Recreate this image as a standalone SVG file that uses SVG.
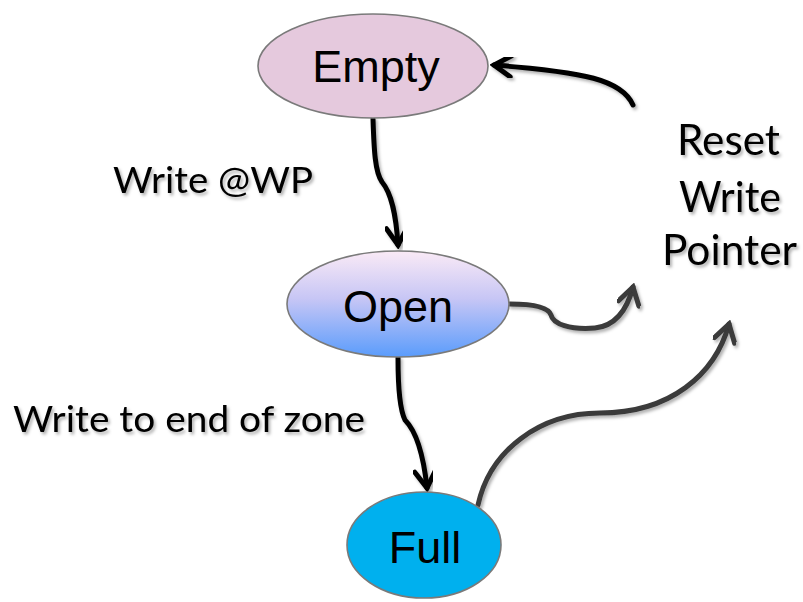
<svg xmlns="http://www.w3.org/2000/svg" width="803" height="602" viewBox="0 0 803 602">
<defs>
<linearGradient id="openGrad" x1="0" y1="0" x2="0" y2="1">
<stop offset="0" stop-color="#FAEAF6"/>
<stop offset="0.45" stop-color="#C7C6F5"/>
<stop offset="1" stop-color="#5A9CFC"/>
</linearGradient>
<filter id="sh" x="-20%" y="-20%" width="140%" height="140%">
<feDropShadow dx="2" dy="2.5" stdDeviation="1.8" flood-color="#000" flood-opacity="0.3"/>
</filter>
<marker id="ahBlack" viewBox="0 0 24 24" refX="20" refY="12" markerWidth="24" markerHeight="24" markerUnits="userSpaceOnUse" orient="auto">
<path d="M3,1.5 L20,12 L3,22.5" fill="none" stroke="#000" stroke-width="5" stroke-linecap="round" stroke-linejoin="miter"/>
</marker>
<marker id="ahGray" viewBox="0 0 24 24" refX="20" refY="12" markerWidth="24" markerHeight="24" markerUnits="userSpaceOnUse" orient="auto">
<path d="M3,1.5 L20,12 L3,22.5" fill="none" stroke="#3a3a3a" stroke-width="5" stroke-linecap="round" stroke-linejoin="miter"/>
</marker>
</defs>
<style>
.node { stroke: #7a7a7a; stroke-width: 1.6; }
.ntext { font-family: "Liberation Sans", Arial, sans-serif; font-size: 45px; fill: #000; text-anchor: middle; }
.lbl { font-family: Lato, "Open Sans", "Liberation Sans", sans-serif; font-size: 36px; fill: #000; filter: url(#sh); }
.rlbl { font-family: Lato, "Open Sans", "Liberation Sans", sans-serif; font-size: 42px; fill: #000; filter: url(#sh); }
.blk { fill: none; stroke: #000; stroke-width: 5; stroke-linecap: round; filter: url(#sh); }
.gry { fill: none; stroke: #3a3a3a; stroke-width: 5; stroke-linecap: round; filter: url(#sh); }
</style>
<rect width="803" height="602" fill="#fff"/>

<g id="connectors">
<path class="blk" d="M373,119 C374,150 375,172 382,182 C392,194 396,215 398,245" marker-end="url(#ahBlack)"/>
<path class="blk" d="M398,358 C398,385 399,408 405,420 C417,432 424,460 427,488" marker-end="url(#ahBlack)"/>
<path class="blk" d="M633,105 C622,80 585,72 494,65" marker-end="url(#ahBlack)"/>
<path class="gry" d="M510,304 C530,304 548,306 551,315 C553,324 570,330 595,328 C615,326 627,310 633,287" marker-end="url(#ahGray)"/>
<path class="gry" d="M478,505 C490,450 540,413 600,413 C670,413 715,375 729,324" marker-end="url(#ahGray)"/>
</g>

<g id="empty">
<ellipse class="node" cx="373" cy="66" rx="115" ry="52" fill="#E5C9DD"/>
<text class="ntext" x="376" y="82">Empty</text>
</g>

<g id="open">
<ellipse class="node" cx="398" cy="304" rx="111" ry="53" fill="url(#openGrad)"/>
<text class="ntext" x="398" y="322">Open</text>
</g>

<g id="full">
<ellipse class="node" cx="424" cy="545" rx="77" ry="53" fill="#00B0EE"/>
<text class="ntext" x="425" y="563">Full</text>
</g>

<g id="labels">
<text class="lbl" x="113" y="193" textLength="200" lengthAdjust="spacingAndGlyphs">Write @WP</text>
<text class="lbl" x="13" y="432" textLength="352" lengthAdjust="spacingAndGlyphs">Write to end of zone</text>
<text class="rlbl" x="677" y="155" textLength="103" lengthAdjust="spacingAndGlyphs">Reset</text>
<text class="rlbl" x="679" y="212" textLength="102" lengthAdjust="spacingAndGlyphs">Write</text>
<text class="rlbl" x="662" y="265" textLength="135" lengthAdjust="spacingAndGlyphs">Pointer</text>
</g>
</svg>
